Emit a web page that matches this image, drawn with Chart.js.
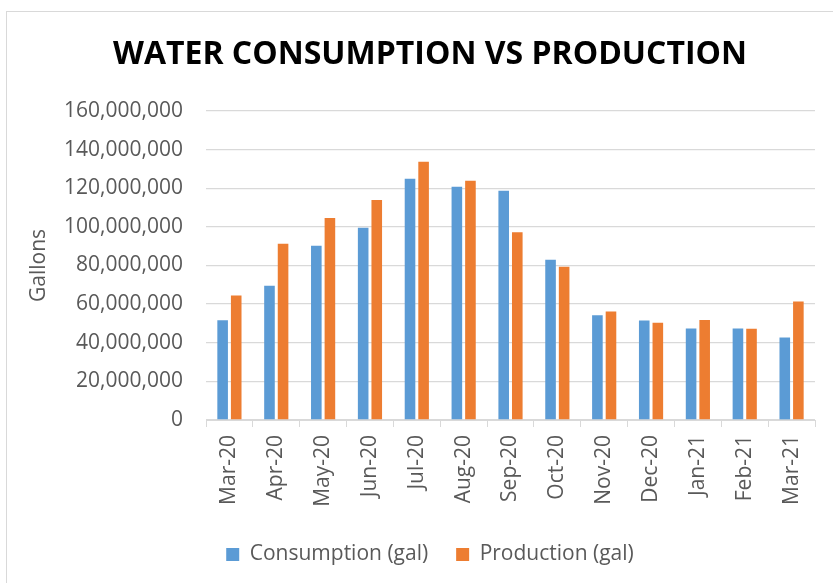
<!DOCTYPE html>
<html lang="en">
<head>
  <meta charset="UTF-8" />
  <title>Water Consumption vs Production</title>
  <script src="https://cdn.jsdelivr.net/npm/chart.js"></script>
  <style>
    html, body { margin: 0; padding: 0; background: #fff; overflow: hidden; }
    #wrap { position: relative; width: 833px; height: 583px; }
    #frame { position: absolute; left: 6px; top: 11px; width: 900px; height: 900px; border: 1px solid #d9d9d9; }
    canvas { position: absolute; left: 0; top: 0; }
  </style>
</head>
<body>
<div id="wrap">
  <div id="frame"></div>
  <canvas id="chart" width="833" height="583"></canvas>
</div>
<script>
  // data
  const months = ['Mar-20', 'Apr-20', 'May-20', 'Jun-20', 'Jul-20', 'Aug-20', 'Sep-20',
                  'Oct-20', 'Nov-20', 'Dec-20', 'Jan-21', 'Feb-21', 'Mar-21'];
  const consumption = [51600000, 69500000, 90200000, 99500000, 124900000, 120800000, 118700000,
                       82900000, 54200000, 51500000, 47300000, 47300000, 42700000];
  const production = [64400000, 91200000, 104500000, 113900000, 133700000, 123900000, 97200000,
                      79300000, 56100000, 50400000, 51800000, 47200000, 61300000];
  const yTicks = [0, 20000000, 40000000, 60000000, 80000000, 100000000, 120000000, 140000000, 160000000];

  const font = '"Open Sans", "DejaVu Sans", sans-serif';
  const grey = '#595959';
  const lineGrey = '#d9d9d9';

  new Chart(document.getElementById('chart'), {
    type: 'bar',
    data: {
      labels: months,
      datasets: [
        { label: 'Consumption (gal)', data: consumption, backgroundColor: '#5b9bd5' },
        { label: 'Production (gal)', data: production, backgroundColor: '#ed7d31' }
      ]
    },
    options: {
      responsive: false,
      animation: false,
      devicePixelRatio: 1,
      categoryPercentage: 0.58,
      barPercentage: 0.78,
      layout: { padding: { left: 45, right: 18, top: 11, bottom: 8 } },
      plugins: {
        title: {
          display: true,
          text: 'WATER CONSUMPTION VS PRODUCTION',
          color: '#000',
          font: { family: font, size: 32, weight: 'bold', lineHeight: 1.2 },
          padding: { top: 25, bottom: 36.5 }
        },
        legend: {
          position: 'bottom',
          labels: {
            color: grey,
            font: { family: font, size: 21 },
            boxWidth: 13,
            boxHeight: 13,
            padding: 28
          }
        },
        tooltip: { enabled: false }
      },
      scales: {
        x: {
          grid: { display: true, offset: true, drawOnChartArea: false, drawTicks: true, tickLength: 7, color: lineGrey },
          border: { display: true, color: lineGrey, width: 1 },
          ticks: { color: grey, font: { family: font, size: 21 }, minRotation: 90, maxRotation: 90, padding: 8, autoSkip: false },
          afterFit: s => { s.height = 96; }
        },
        y: {
          min: 0,
          max: 160000000,
          afterBuildTicks: s => { s.ticks = yTicks.map(v => ({ value: v })); },
          grid: { color: lineGrey, lineWidth: 1.3, drawTicks: false },
          border: { display: false },
          ticks: {
            color: grey,
            font: { family: font, size: 21 },
            padding: 23,
            callback: v => v.toLocaleString('en-US')
          },
          title: {
            display: true,
            text: 'Gallons',
            color: grey,
            font: { family: font, size: 21, lineHeight: 1.2 },
            padding: { top: -19, bottom: 0 }
          },
          afterFit: s => { s.width = 161; }
        }
      }
    }
  });
</script>
</body>
</html>
